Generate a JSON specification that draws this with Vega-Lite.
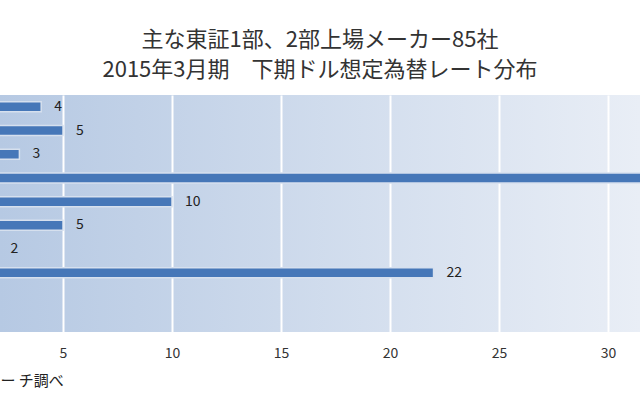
{
  "$schema": "https://vega.github.io/schema/vega-lite/v6.json",
  "width": 640,
  "height": 237,
  "padding": {"top": 29, "left": 0, "right": 0, "bottom": 0},
  "background": "#ffffff",
  "title": {
    "text": ["主な東証1部、2部上場メーカー85社", "2015年3月期　下期ドル想定為替レート分布"],
    "font": "Noto Sans CJK JP",
    "fontSize": 22,
    "fontWeight": "normal",
    "color": "#333333",
    "lineHeight": 30,
    "offset": 13,
    "anchor": "middle"
  },
  "data": {
    "values": [
      {"rate": "95円未満", "companies": 4},
      {"rate": "95円", "companies": 5},
      {"rate": "98円", "companies": 3},
      {"rate": "100円", "companies": 34},
      {"rate": "101〜104円", "companies": 10},
      {"rate": "105円", "companies": 5},
      {"rate": "106〜109円", "companies": 2},
      {"rate": "110円", "companies": 22},
      {"rate": "110円超", "companies": 0},
      {"rate": "未定", "companies": 0}
    ]
  },
  "encoding": {
    "y": {
      "field": "rate",
      "type": "nominal",
      "sort": null,
      "axis": null,
      "scale": {"paddingInner": 0.58, "paddingOuter": 0.29}
    },
    "x": {
      "field": "companies",
      "type": "quantitative",
      "scale": {"domain": [2.11, 31.47], "nice": false, "zero": false},
      "axis": {
        "values": [5, 10, 15, 20, 25, 30],
        "title": "ー チ調べ",
        "titleAnchor": "start",
        "titleAlign": "left",
        "titleFont": "Noto Sans CJK JP",
        "titleFontSize": 15,
        "titleFontWeight": "normal",
        "titleColor": "#222222",
        "titlePadding": 13,
        "labelFont": "Noto Sans CJK JP",
        "labelFontSize": 14,
        "labelColor": "#333333",
        "labelPadding": 14,
        "ticks": false,
        "domain": false,
        "grid": true,
        "gridColor": "#ffffff",
        "gridWidth": 2,
        "gridOpacity": 1
      }
    }
  },
  "layer": [
    {
      "mark": {
        "type": "bar",
        "clip": true,
        "color": "#4677b8",
        "stroke": "#d6e0ee",
        "strokeWidth": 1.5
      },
      "encoding": {
        "x2": {"datum": 0}
      }
    },
    {
      "transform": [{"filter": "datum.companies > 0 && datum.companies < 30"}],
      "mark": {
        "type": "text",
        "clip": true,
        "align": "left",
        "dx": 13,
        "font": "Noto Sans CJK JP",
        "fontSize": 14,
        "color": "#222222"
      },
      "encoding": {
        "text": {"field": "companies", "type": "quantitative"}
      }
    }
  ],
  "config": {
    "view": {
      "stroke": null,
      "fill": {
        "gradient": "linear",
        "x1": 0, "y1": 0, "x2": 1, "y2": 0,
        "stops": [
          {"offset": 0, "color": "#b6c9e3"},
          {"offset": 1, "color": "#e9eef6"}
        ]
      }
    }
  }
}
